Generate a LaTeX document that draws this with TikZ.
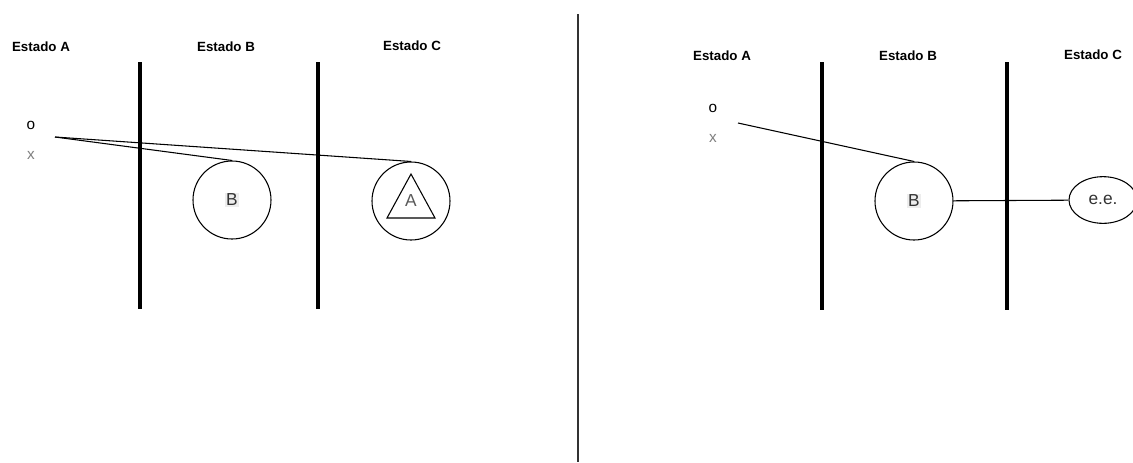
\documentclass[tikz,border=0pt]{standalone}
\usepackage{fontspec}
\setmainfont{Liberation Sans}
\usetikzlibrary{shapes,arrows,positioning,calc}
\setlength{\fboxsep}{1pt}
\tikzset{
statelabel/.style = {font=\fontsize{10}{12}\selectfont\bfseries},
bar/.style = {line width=3.3pt},
divider/.style = {line width=1.9pt, draw=black!80},
ball/.style = {draw, circle, line width=0.8pt, minimum size=58.5pt, inner sep=0pt, font=\fontsize{13}{15}\selectfont, text=black!80},
egg/.style = {draw, ellipse, line width=0.8pt, minimum width=51pt, minimum height=35pt, inner sep=0pt, font=\fontsize{13}{15}\selectfont, text=black!80},
sym/.style = {font=\fontsize{11.5}{13}\selectfont},
link/.style = {line width=0.8pt}
}
\begin{document}
\begin{tikzpicture}[auto, node distance=2cm, >=latex', x=0.75pt, y=-0.75pt]
\useasboundingbox (0,0) rectangle (1133,462);
% left side
\node [statelabel] (la) at (41,47) {Estado A};
\node [statelabel] (lb) at (226,47) {Estado B};
\node [statelabel] (lc) at (412,46) {Estado C};
\draw [bar] (140,62) -- (140,309);
\draw [bar] (318,62) -- (318,309);
\node [sym] (lo) at (31,125) {o};
\node [sym, text=gray] (lx) at (31,155) {x};
\coordinate (ls) at (55,137);
\node [ball] (lB) at (232,200) {\colorbox{black!7}{B}};
\node [ball, text=black!65] (lA) at (411,201) {A};
\draw [link] ($(lA)+(0,-27)$) -- ($(lA)+(-24,17)$) -- ($(lA)+(24,17)$) -- cycle;
\draw [link] (ls) -- (lB.north);
\draw [link] (ls) -- (lA.north);
% divider
\draw [divider] (578,14) -- (578,462);
% right side
\node [statelabel] (ra) at (722,56) {Estado A};
\node [statelabel] (rb) at (908,56) {Estado B};
\node [statelabel] (rc) at (1093,55) {Estado C};
\draw [bar] (822,62) -- (822,310);
\draw [bar] (1007,62) -- (1007,310);
\node [sym] (ro) at (713,108) {o};
\node [sym, text=gray] (rx) at (713,138) {x};
\coordinate (rs) at (738,123);
\node [ball] (rB) at (914,201) {\colorbox{black!7}{B}};
\node [egg] (ee) at (1103,200) {e.e.};
\draw [link] (rs) -- (rB.north);
\draw [link] (rB) -- (ee);
\end{tikzpicture}
\end{document}
